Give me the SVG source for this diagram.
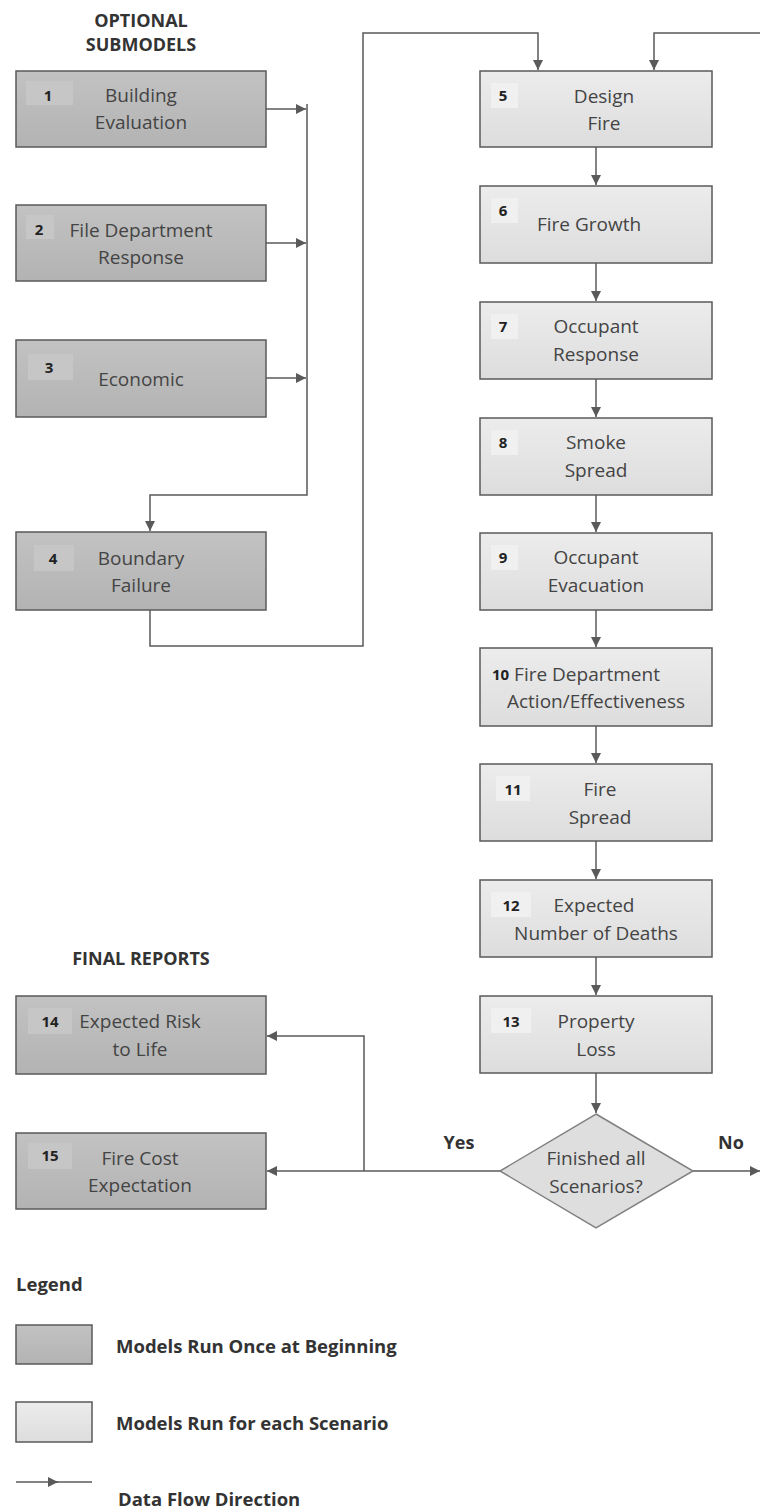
<svg xmlns="http://www.w3.org/2000/svg" width="760" height="1508" viewBox="0 0 760 1508">
<style>
.t{font-family:"Open Sans","Liberation Sans",sans-serif;font-size:19px;fill:#444;text-anchor:middle;dominant-baseline:central}
.n{font-family:"Open Sans","Liberation Sans",sans-serif;font-size:15px;font-weight:bold;fill:#222;text-anchor:middle;dominant-baseline:central}
.h{font-family:"Open Sans","Liberation Sans",sans-serif;font-size:18px;font-weight:bold;fill:#333;text-anchor:middle;dominant-baseline:central}
.lg{font-family:"Open Sans","Liberation Sans",sans-serif;font-size:18.5px;font-weight:bold;fill:#333;dominant-baseline:central}
.dk{fill:url(#gd);stroke:#5a5a5a;stroke-width:1.5}
.lt{fill:url(#gl);stroke:#5a5a5a;stroke-width:1.5}
.pd{fill:#c6c6c6}
.pl{fill:#f0f0f0}
.c{fill:none;stroke:#5a5a5a;stroke-width:1.5}
</style>
<defs>
<linearGradient id="gd" x1="0" y1="0" x2="0" y2="1"><stop offset="0" stop-color="#c2c2c2"/><stop offset="1" stop-color="#b3b3b3"/></linearGradient>
<linearGradient id="gl" x1="0" y1="0" x2="0" y2="1"><stop offset="0" stop-color="#ececec"/><stop offset="1" stop-color="#dddddd"/></linearGradient>
<marker id="arl" viewBox="0 0 10 10" refX="10" refY="5" markerWidth="12" markerHeight="10" orient="auto" markerUnits="userSpaceOnUse"><path d="M0,0 L10,5 L0,10 z" fill="#5a5a5a"/></marker>
</defs>

<text class="h" x="141" y="20">OPTIONAL</text>
<text class="h" x="141" y="44">SUBMODELS</text>
<text class="h" x="141" y="958">FINAL REPORTS</text>

<g id="connectors">
<path class="c" d="M266,109 H306" marker-end="url(#arl)"/>
<path class="c" d="M266,243 H306" marker-end="url(#arl)"/>
<path class="c" d="M266,378 H306" marker-end="url(#arl)"/>
<path class="c" d="M307,104 V495 H150 V531" marker-end="url(#arl)"/>
<path class="c" d="M150,610 V646 H363 V33 H538 V70" marker-end="url(#arl)"/>
<path class="c" d="M760,33 H654 V70" marker-end="url(#arl)"/>
<path class="c" d="M596,147 V185" marker-end="url(#arl)"/>
<path class="c" d="M596,263 V301" marker-end="url(#arl)"/>
<path class="c" d="M596,379 V417" marker-end="url(#arl)"/>
<path class="c" d="M596,495 V532" marker-end="url(#arl)"/>
<path class="c" d="M596,610 V647" marker-end="url(#arl)"/>
<path class="c" d="M596,726 V763" marker-end="url(#arl)"/>
<path class="c" d="M596,841 V879" marker-end="url(#arl)"/>
<path class="c" d="M596,957 V995" marker-end="url(#arl)"/>
<path class="c" d="M596,1073 V1113" marker-end="url(#arl)"/>
<path class="c" d="M500,1171 H267" marker-end="url(#arl)"/>
<path class="c" d="M364,1171 V1036 H267" marker-end="url(#arl)"/>
<path class="c" d="M693,1171 H760" marker-end="url(#arl)"/>
</g>

<g id="n1"><rect class="dk" x="16" y="71" width="250" height="76"/><rect class="pd" x="26" y="81" width="47" height="24"/><text class="n" x="48" y="95">1</text><text class="t" x="141" y="95">Building</text><text class="t" x="141" y="122">Evaluation</text></g>
<g id="n2"><rect class="dk" x="16" y="205" width="250" height="76"/><rect class="pd" x="26" y="215" width="28" height="24"/><text class="n" x="39" y="229">2</text><text class="t" x="141" y="230">File Department</text><text class="t" x="141" y="257">Response</text></g>
<g id="n3"><rect class="dk" x="16" y="340" width="250" height="77"/><rect class="pd" x="28" y="354" width="45" height="26"/><text class="n" x="49" y="367">3</text><text class="t" x="141" y="379">Economic</text></g>
<g id="n4"><rect class="dk" x="16" y="532" width="250" height="78"/><rect class="pd" x="34" y="545" width="40" height="26"/><text class="n" x="53" y="558">4</text><text class="t" x="141" y="558">Boundary</text><text class="t" x="141" y="585">Failure</text></g>

<g id="n5"><rect class="lt" x="480" y="71" width="232" height="76"/><rect class="pl" x="491" y="83" width="27" height="25"/><text class="n" x="503" y="95">5</text><text class="t" x="604" y="96">Design</text><text class="t" x="604" y="123">Fire</text></g>
<g id="n6"><rect class="lt" x="480" y="186" width="232" height="77"/><rect class="pl" x="491" y="198" width="27" height="25"/><text class="n" x="503" y="210">6</text><text class="t" x="589" y="224">Fire Growth</text></g>
<g id="n7"><rect class="lt" x="480" y="302" width="232" height="77"/><rect class="pl" x="491" y="314" width="27" height="25"/><text class="n" x="503" y="326">7</text><text class="t" x="596" y="326">Occupant</text><text class="t" x="596" y="354">Response</text></g>
<g id="n8"><rect class="lt" x="480" y="418" width="232" height="77"/><rect class="pl" x="491" y="430" width="27" height="25"/><text class="n" x="503" y="442">8</text><text class="t" x="596" y="442">Smoke</text><text class="t" x="596" y="470">Spread</text></g>
<g id="n9"><rect class="lt" x="480" y="533" width="232" height="77"/><rect class="pl" x="491" y="545" width="27" height="25"/><text class="n" x="503" y="557">9</text><text class="t" x="596" y="557">Occupant</text><text class="t" x="596" y="585">Evacuation</text></g>
<g id="n10"><rect class="lt" x="480" y="648" width="232" height="78"/><text class="t" x="492" y="674" style="text-anchor:start"><tspan style="font-weight:bold;font-size:15px;fill:#222">10</tspan> Fire Department</text><text class="t" x="596" y="701">Action/Effectiveness</text></g>
<g id="n11"><rect class="lt" x="480" y="764" width="232" height="77"/><rect class="pl" x="496" y="776" width="34" height="25"/><text class="n" x="513" y="789">11</text><text class="t" x="600" y="789">Fire</text><text class="t" x="600" y="817">Spread</text></g>
<g id="n12"><rect class="lt" x="480" y="880" width="232" height="77"/><rect class="pl" x="491" y="892" width="40" height="25"/><text class="n" x="511" y="905">12</text><text class="t" x="594" y="905">Expected</text><text class="t" x="596" y="933">Number of Deaths</text></g>
<g id="n13"><rect class="lt" x="480" y="996" width="232" height="77"/><rect class="pl" x="491" y="1008" width="40" height="25"/><text class="n" x="511" y="1021">13</text><text class="t" x="596" y="1021">Property</text><text class="t" x="596" y="1049">Loss</text></g>

<g id="n16"><polygon points="596,1114 693,1171 596,1228 500,1171" fill="#dedede" stroke="#808080" stroke-width="1.5"/><text class="t" x="596" y="1158">Finished all</text><text class="t" x="596" y="1186">Scenarios?</text></g>
<text class="h" x="459" y="1142">Yes</text>
<text class="h" x="731" y="1142">No</text>

<g id="n14"><rect class="dk" x="16" y="996" width="250" height="78"/><rect class="pd" x="28" y="1008" width="44" height="26"/><text class="n" x="50" y="1021">14</text><text class="t" x="140" y="1021">Expected Risk</text><text class="t" x="140" y="1049">to Life</text></g>
<g id="n15"><rect class="dk" x="16" y="1133" width="250" height="76"/><rect class="pd" x="28" y="1143" width="44" height="26"/><text class="n" x="50" y="1155">15</text><text class="t" x="140" y="1158">Fire Cost</text><text class="t" x="140" y="1185">Expectation</text></g>

<g id="legend">
<text class="lg" x="16" y="1283">Legend</text>
<rect class="dk" x="16" y="1325" width="76" height="39"/>
<text class="lg" x="116" y="1345">Models Run Once at Beginning</text>
<rect class="lt" x="16" y="1402" width="76" height="40"/>
<text class="lg" x="116" y="1422">Models Run for each Scenario</text>
<path class="c" d="M16,1482 H58" marker-end="url(#arl)"/>
<path class="c" d="M56,1482 H92"/>
<text class="lg" x="118" y="1498">Data Flow Direction</text>
</g>
</svg>
